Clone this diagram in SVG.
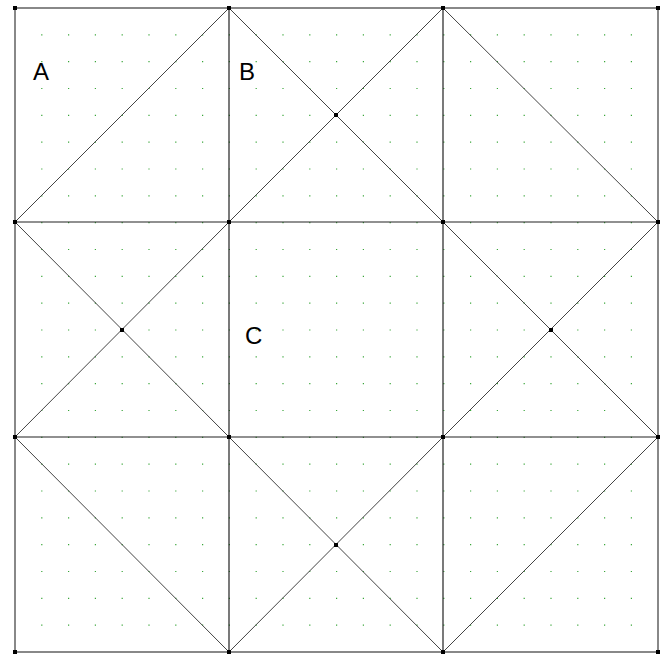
<svg xmlns="http://www.w3.org/2000/svg" width="670" height="655" viewBox="0 0 670 655">
<style>
.ln{stroke:#222;stroke-width:1.2;fill:none}
.dg{stroke:#444;stroke-width:1;fill:none}
.bd{stroke:#888;stroke-width:2;fill:none}
.pt{fill:#000}
.dt{stroke:#3aa63a;stroke-width:1.2;stroke-dasharray:1.2 25.6;fill:none}
.lb{font-family:"Liberation Sans",Arial,sans-serif;font-size:24px;fill:#000}
</style>
<rect width="670" height="655" fill="#fff"/>
<path class="dt" d="M14.4 34.8H660M14.4 61.7H660M14.4 88.5H660M14.4 115.3H660M14.4 142.2H660M14.4 169H660M14.4 195.8H660M14.4 222.7H660M14.4 249.5H660M14.4 276.3H660M14.4 303.2H660M14.4 330H660M14.4 356.8H660M14.4 383.7H660M14.4 410.5H660M14.4 437.3H660M14.4 464.2H660M14.4 491H660M14.4 517.8H660M14.4 544.7H660M14.4 571.5H660M14.4 598.3H660M14.4 625.2H660"/>
<g id="connectors">
<rect class="bd" x="15" y="8" width="643" height="644"/>
<path class="ln" d="M229 8V652M443 8V652M15 222H658M15 437H658"/>
<path class="dg" d="M15 222L229 8M229 8L443 222M443 8L229 222M443 8L658 222M15 222L229 437M15 437L229 222M443 222L658 437M443 437L658 222M15 437L229 652M229 437L443 652M443 437L229 652M443 652L658 437"/>
</g>
<g id="points" class="pt">
<rect x="13" y="6" width="4" height="4"/><rect x="227" y="6" width="4" height="4"/><rect x="441" y="6" width="4" height="4"/><rect x="656" y="6" width="4" height="4"/>
<rect x="13" y="220" width="4" height="4"/><rect x="227" y="220" width="4" height="4"/><rect x="441" y="220" width="4" height="4"/><rect x="656" y="220" width="4" height="4"/>
<rect x="13" y="435" width="4" height="4"/><rect x="227" y="435" width="4" height="4"/><rect x="441" y="435" width="4" height="4"/><rect x="656" y="435" width="4" height="4"/>
<rect x="13" y="650" width="4" height="4"/><rect x="227" y="650" width="4" height="4"/><rect x="441" y="650" width="4" height="4"/><rect x="656" y="650" width="4" height="4"/>
<rect x="334" y="113" width="4" height="4"/><rect x="120" y="328" width="4" height="4"/><rect x="549" y="328" width="4" height="4"/><rect x="334" y="543" width="4" height="4"/>
</g>
<g id="A"><text class="lb" x="33" y="80">A</text></g>
<g id="B"><text class="lb" x="239" y="80">B</text></g>
<g id="C"><text class="lb" x="245" y="344">C</text></g>
</svg>
